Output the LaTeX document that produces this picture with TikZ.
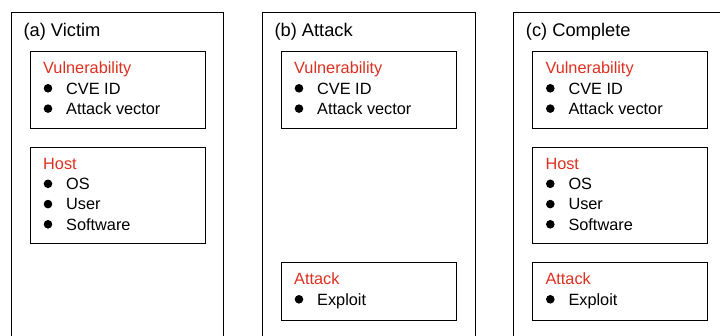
\documentclass[tikz,border=0pt]{standalone}
\usepackage{fontspec}
\setmainfont{Liberation Sans}
\definecolor{vred}{RGB}{222,48,32}
\newcommand\mkvuln[2]{%
  \node[ibox, minimum height=77pt] (#1vul) at (#2,50.5) {};
  \node[head] (#1vulh) at (#2+13,73.3) {Vulnerability};
  \node[dot] (#1vd1) at (#2+18,88.3) {};
  \node[item] (#1cve) at (#2+36,94) {CVE ID};
  \node[dot] (#1vd2) at (#2+18,108.6) {};
  \node[item] (#1av) at (#2+36,114.3) {Attack vector};
}
\newcommand\mkhost[2]{%
  \node[ibox, minimum height=96pt] (#1host) at (#2,147) {};
  \node[head] (#1hosth) at (#2+13,169.5) {Host};
  \node[dot] (#1hd1) at (#2+18,183.8) {};
  \node[item] (#1os) at (#2+36,189.5) {OS};
  \node[dot] (#1hd2) at (#2+18,204.1) {};
  \node[item] (#1user) at (#2+36,209.8) {User};
  \node[dot] (#1hd3) at (#2+18,224.3) {};
  \node[item] (#1sw) at (#2+36,230) {Software};
}
\newcommand\mkattack[2]{%
  \node[ibox, minimum height=57.7pt] (#1att) at (#2,262.3) {};
  \node[head] (#1atth) at (#2+13,284) {Attack};
  \node[dot] (#1ad1) at (#2+18,299.3) {};
  \node[item] (#1exp) at (#2+36,305) {Exploit};
}
\begin{document}
\begin{tikzpicture}[x=1pt,y=-1pt,
  panel/.style={draw, line width=1.1pt, minimum width=212.5pt, minimum height=340pt, anchor=north west, inner sep=0pt},
  ibox/.style={draw, line width=1.1pt, minimum width=174.5pt, anchor=north west, inner sep=0pt},
  title/.style={anchor=base west, inner sep=0pt, font=\fontsize{18.3}{22}\selectfont},
  head/.style={anchor=base west, inner sep=0pt, text=vred, font=\fontsize{16.3}{20}\selectfont},
  item/.style={anchor=base west, inner sep=0pt, font=\fontsize{16.3}{20}\selectfont},
  dot/.style={circle, fill=black, inner sep=0pt, minimum size=8.6pt}]
\useasboundingbox (0,0) rectangle (720,335);
\clip (0,0) rectangle (720,335);
\fill[white] (0,0) rectangle (720,335);
% (a) Victim
\node[panel] (pa) at (10.7,12) {};
\node[title] (ta) at (23.3,36) {(a) Victim};
\mkvuln{a}{30}
\mkhost{a}{30}
% (b) Attack
\node[panel] (pb) at (262,12) {};
\node[title] (tb) at (274.3,36) {(b) Attack};
\mkvuln{b}{281}
\mkattack{b}{281}
% (c) Complete
\node[panel] (pc) at (513,12) {};
\node[title] (tc) at (525.7,36) {(c) Complete};
\mkvuln{c}{532.3}
\mkhost{c}{532.3}
\mkattack{c}{532.3}
\end{tikzpicture}
\end{document}
